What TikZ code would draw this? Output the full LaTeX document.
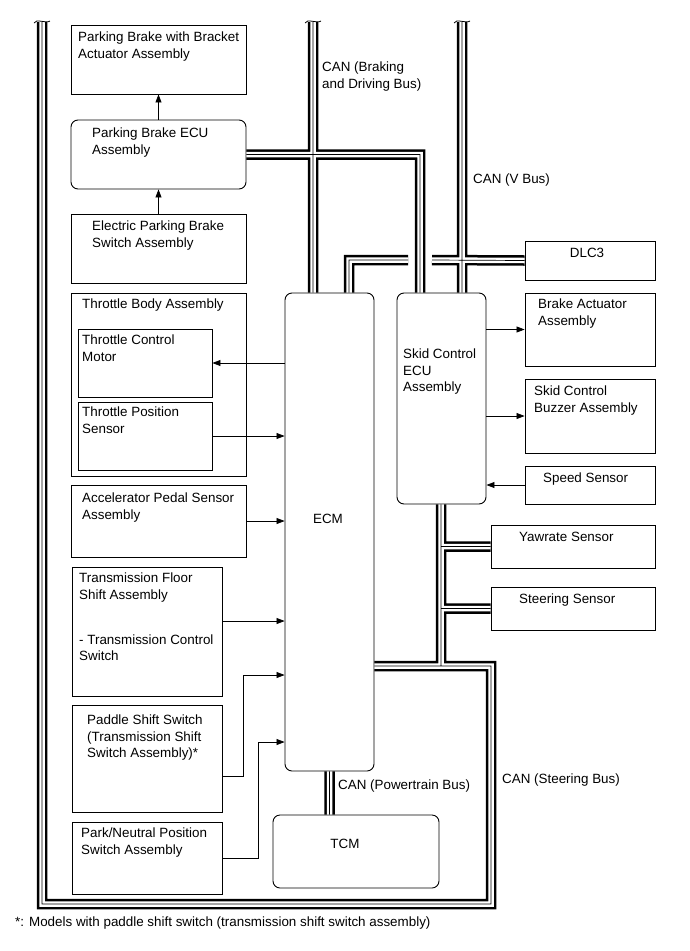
\documentclass[tikz,border=0pt]{standalone}
\usepackage{fontspec}
\setmainfont{Liberation Sans}
\usetikzlibrary{arrows.meta,positioning,calc,fit}

\begin{document}
\begin{tikzpicture}[x=1pt,y=-1pt,
  box/.style={draw,line width=0.9pt,inner sep=0pt},
  rbox/.style={box,rounded corners=7pt},
  txt/.style={anchor=north west,align=left,inner sep=0pt,font=\fontsize{13.4}{16.5}\selectfont},
  sig/.style={line width=0.7pt,-{Triangle[length=8pt,width=6pt]}},
  busout/.style={line width=10.5pt,line join=miter},
  busin/.style={line width=5.5pt,white,line join=miter},
  buscore/.style={line width=0.7pt,line join=miter},
  brk/.style={line width=0.8pt}]
  \useasboundingbox (0,0) rectangle (689,951);

  % units
  \node[box,fit={(71,25)(246,94)}] (pbact) {};
  \node[rbox,fit={(71,120)(246,189)}] (pbecu) {};
  \node[box,fit={(71,214)(246,283)}] (epbsw) {};
  \node[box,fit={(71,293)(246,476)}] (thbody) {};
  \node[box,fit={(78,329)(212,397)}] (thmot) {};
  \node[box,fit={(78,402)(212,470)}] (tps) {};
  \node[box,fit={(71,485)(246,557)}] (apps) {};
  \node[box,fit={(72,567)(222,696)}] (tfs) {};
  \node[box,fit={(72,705)(222,812)}] (paddle) {};
  \node[box,fit={(72,822)(222,894)}] (pnp) {};
  \node[rbox,fit={(285,293)(374,771)}] (ecm) {};
  \node[rbox,fit={(397,293)(486,504)}] (skid) {};
  \node[box,fit={(525,241)(655,280)}] (dlc) {};
  \node[box,fit={(525,293)(655,366)}] (bract) {};
  \node[box,fit={(525,379)(655,453)}] (buzz) {};
  \node[box,fit={(525,466)(655,504)}] (speed) {};
  \node[box,fit={(491,525)(655,568)}] (yaw) {};
  \node[box,fit={(491,587)(655,630)}] (steer) {};
  \node[rbox,fit={(273,815)(439,888)}] (tcm) {};

  % labels
  \node[txt] (pbact-t) at (78,32) {Parking Brake with Bracket\\Actuator Assembly};
  \node[txt] (pbecu-t) at (92,128) {Parking Brake ECU\\Assembly};
  \node[txt] (epbsw-t) at (92,221) {Electric Parking Brake\\Switch Assembly};
  \node[txt] (thbody-t) at (82,299) {Throttle Body Assembly};
  \node[txt] (thmot-t) at (82,335) {Throttle Control\\Motor};
  \node[txt] (tps-t) at (82,407) {Throttle Position\\Sensor};
  \node[txt] (apps-t) at (82,493) {Accelerator Pedal Sensor\\Assembly};
  \node[txt] (tfs-t) at (79,573) {Transmission Floor\\Shift Assembly\\[28.5pt]- Transmission Control\\Switch};
  \node[txt] (paddle-t) at (87,715) {Paddle Shift Switch\\(Transmission Shift\\Switch Assembly)*};
  \node[txt] (pnp-t) at (81,828) {Park/Neutral Position\\Switch Assembly};
  \node[txt,anchor=center] (ecm-t) at (328,519) {ECM};
  \node[txt] (skid-t) at (403,349) {Skid Control\\ECU\\Assembly};
  \node[txt,anchor=center] (dlc-t) at (587,253) {DLC3};
  \node[txt] (bract-t) at (538,299) {Brake Actuator\\Assembly};
  \node[txt] (buzz-t) at (534,386) {Skid Control\\Buzzer Assembly};
  \node[txt] (speed-t) at (543,473) {Speed Sensor};
  \node[txt] (yaw-t) at (519,532) {Yawrate Sensor};
  \node[txt] (steer-t) at (519,594) {Steering Sensor};
  \node[txt,anchor=center] (tcm-t) at (345,844) {TCM};
  \node[txt] (can-bd) at (322,62) {CAN (Braking\\and Driving Bus)};
  \node[txt] (can-v) at (473,174) {CAN (V Bus)};
  \node[txt] (can-pt) at (338,780) {CAN (Powertrain Bus)};
  \node[txt] (can-st) at (502,774) {CAN (Steering Bus)};
  \node[txt] (note) at (15,917) {*: Models with paddle shift switch (transmission shift switch assembly)};

  % signal lines
  \coordinate (tfs-o) at (222,621);
  \coordinate (pad-o) at (222,776);
  \coordinate (pad-k) at (243,675);
  \coordinate (pnp-k) at (258,742);
  \draw[sig] (pbecu.north) -- (pbact.south);
  \draw[sig] (epbsw.north) -- (pbecu.south);
  \draw[sig] (thmot.east -| ecm.west) -- (thmot.east);
  \draw[sig] (tps.east) -- (tps.east -| ecm.west);
  \draw[sig] (apps.east) -- (apps.east -| ecm.west);
  \draw[sig] (tfs-o) -- (tfs-o -| ecm.west);
  \draw[sig] (pad-o) -| (pad-k) -- (pad-k -| ecm.west);
  \draw[sig] (pnp.east) -| (pnp-k) -- (pnp-k -| ecm.west);
  \draw[sig] (bract.west -| skid.east) -- (bract.west);
  \draw[sig] (buzz.west -| skid.east) -- (buzz.west);
  \draw[sig] (speed.west) -- (speed.west -| skid.east);

  % CAN buses
  \coordinate (st-top) at (42,22);
  \coordinate (st-bl) at (42,904);
  \coordinate (st-br) at (491,904);
  \coordinate (st-tr) at (491,666);
  \coordinate (st-j) at (441,666);
  \coordinate (brk-top) at (313,22);
  \coordinate (brk-c) at (420,155);
  \coordinate (v-top) at (462,22);
  \coordinate (v-c) at (349,260);
  \coordinate (v-gl) at (408,260);
  \coordinate (v-gr) at (432,260);
  \foreach \sty in {busout,busin,buscore}{
    \draw[\sty]
      (st-top) -- (st-bl) -- (st-br) -- (st-tr) -- (st-tr -| ecm.east)
      (st-j |- skid.south) -- (st-j)
      (yaw.west -| st-j) -- (yaw.west)
      (steer.west -| st-j) -- (steer.west)
      (brk-top) -- (brk-top |- ecm.north)
      (pbecu.east) -- (pbecu.east -| brk-c) -- (brk-c |- skid.north)
      (v-top) -- (v-top |- skid.north)
      (v-c |- ecm.north) -- (v-c) -- (v-gl)
      (v-gr) -- (dlc.west)
      (ecm.south) -- (tcm.north -| ecm.south);
  }
  \foreach \t in {st-top,brk-top,v-top}
    \draw[brk] ($(\t)+(-8,1)$) .. controls +(2,-5) and +(-4,3) .. ($(\t)+(8,-1)$);
\end{tikzpicture}
\end{document}
